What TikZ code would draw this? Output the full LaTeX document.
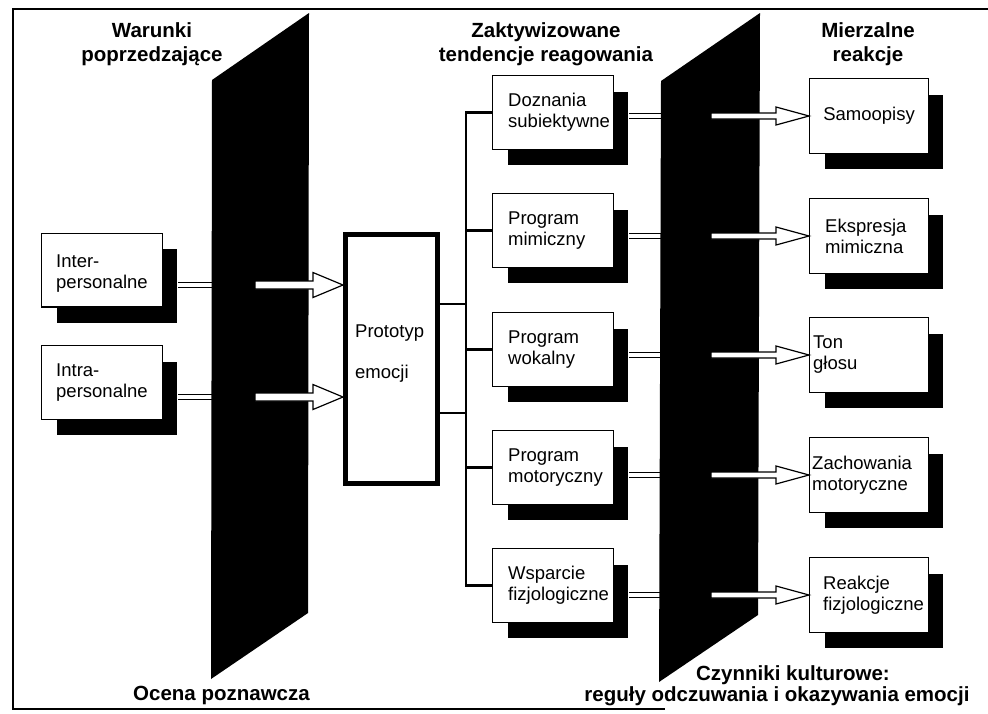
\documentclass[tikz,border=0pt]{standalone}
\usepackage{fontspec}
\setmainfont{Liberation Sans}
\usetikzlibrary{calc,shadows}
\newcommand\boxfont{\fontsize{18.5}{21}\selectfont}
\newcommand\titlefont{\fontsize{20.5}{24}\selectfont\bfseries}
% hollow block arrow: start coordinate, tip target, head length, head half-height, body half-height
\newcommand\hollowarrow[5]{%
  \draw[fill=white, line width=1.2pt, line join=miter] let \p1=(#1), \p2=(#2) in
    (\x1,\y1+#5) -- (\x2-#3,\y1+#5) -- (\x2-#3,\y1+#4) -- (\x2,\y1)
    -- (\x2-#3,\y1-#4) -- (\x2-#3,\y1-#5) -- (\x1,\y1-#5) -- cycle;}
\begin{document}
\begin{tikzpicture}[x=1pt,y=-1pt,
  framestroke/.style={line width=1.4pt},
  pnl/.style={fill=black},
  tbox/.style={draw, fill=white, line width=1.2pt, inner sep=0pt,
    minimum width=120.8pt, minimum height=73.8pt,
    general shadow={fill=black, shadow xshift=15pt, shadow yshift=-16pt}},
  rbox/.style={tbox, minimum width=118.8pt, minimum height=74.8pt},
  btext/.style={inner sep=0pt, align=left, font=\boxfont},
  ttl/.style={inner sep=0pt, align=center, font=\titlefont},
  conn/.style={line width=2.5pt},
  stub/.style={double=white, double distance=4pt, line width=1.4pt},
]
\useasboundingbox (0,0) rectangle (988,713);

% outer frame (open on the right)
\draw[framestroke] (988,9) -- (13,9) -- (13,709) -- (665,709);

% titles
\node[ttl, anchor=north] (ttlA) at (152,22) {Warunki\\poprzedzające};
\node[ttl, anchor=north] (ttlB) at (546,22) {Zaktywizowane\\tendencje reagowania};
\node[ttl, anchor=north] (ttlC) at (868,22) {Mierzalne\\reakcje};
\node[ttl, anchor=base west] (ttlD) at (133,700) {Ocena poznawcza};
\node[ttl, anchor=base] (ttlE) at (793,680) {Czynniki kulturowe:};
\node[ttl, anchor=base] (ttlF) at (777,701) {reguły odczuwania i okazywania emocji};

% key positions
\coordinate (lp) at (212,0);
\coordinate (rp) at (661,0);
\coordinate (busx) at (466,0);
\coordinate (la1) at (255,285);
\coordinate (la2) at (255,397);
\coordinate (ra1) at (711,116);
\coordinate (ra2) at (711,236);
\coordinate (ra3) at (711,355);
\coordinate (ra4) at (711,475);
\coordinate (ra5) at (711,595);
\coordinate (j1) at (466,304);
\coordinate (j2) at (466,413);

% prototype box
\node[draw, line width=5pt, fill=white, inner sep=0pt, minimum width=92pt,
  minimum height=249pt] (proto) at (391.5,359) {};
\node[btext, anchor=base west] (protoA) at (355,337) {Prototyp};
\node[btext, anchor=base west] (protoB) at (355,378) {emocji};

% antecedent boxes
\node[tbox] (i1) at (102,270) {};
\node[tbox] (i2) at (102,382.5) {};
\node[btext, anchor=west] (i1t) at ([xshift=15pt,yshift=-4pt]i1.west) {Inter-\\personalne};
\node[btext, anchor=west] (i2t) at ([xshift=15pt]i2.west) {Intra-\\personalne};

% response tendency boxes
\node[tbox] (t1) at (553,112.5) {};
\node[tbox] (t2) at (553,230.5) {};
\node[tbox] (t3) at (553,349.5) {};
\node[tbox] (t4) at (553,467.5) {};
\node[tbox] (t5) at (553,585.5) {};

% measured reaction boxes
\node[rbox] (r1) at (869,116) {};
\node[rbox] (r2) at (869,236) {};
\node[rbox] (r3) at (869,355) {};
\node[rbox] (r4) at (869,475) {};
\node[rbox] (r5) at (869,595) {};

% bus from the prototype to the tendencies
\draw[conn] (proto.east |- j1) -- (j1);
\draw[conn] (proto.east |- j2) -- (j2);
\draw[conn, line cap=rect] (busx |- t1.west) -- (busx |- t5.west);
\foreach \k in {1,...,5} \draw[conn] (busx |- t\k.west) -- (t\k.west);

% redraw boxes over connector ends
\foreach \k in {1,...,5} \node[draw, fill=white, line width=1.2pt, inner sep=0pt,
  minimum width=120.8pt, minimum height=73.8pt] (t\k c) at (t\k) {};

\node[btext, anchor=west] (t1t) at ([xshift=16pt]t1.west) {Doznania\\subiektywne};
\node[btext, anchor=west] (t2t) at ([xshift=16pt]t2.west) {Program\\mimiczny};
\node[btext, anchor=west] (t3t) at ([xshift=16pt]t3.west) {Program\\wokalny};
\node[btext, anchor=west] (t4t) at ([xshift=16pt]t4.west) {Program\\motoryczny};
\node[btext, anchor=west] (t5t) at ([xshift=16pt]t5.west) {Wsparcie\\fizjologiczne};

\node[btext] (r1t) at (r1.center) {Samoopisy};
\node[btext, anchor=west] (r2t) at ([xshift=16pt]r2.west) {Ekspresja\\mimiczna};
\node[btext, anchor=west] (r3t) at ([xshift=4pt]r3.west) {Ton\\głosu};
\node[btext, anchor=west] (r4t) at ([xshift=3pt]r4.west) {Zachowania\\motoryczne};
\node[btext, anchor=west] (r5t) at ([xshift=14pt]r5.west) {Reakcje\\fizjologiczne};

% short double links into the panels
\draw[stub] ([xshift=15pt]i1.east |- la1) -- (lp |- la1);
\draw[stub] ([xshift=15pt]i2.east |- la2) -- (lp |- la2);
\foreach \k in {1,...,5} \draw[stub] ([xshift=15pt]t\k.east |- ra\k) -- (rp |- ra\k);

% the two dark screens
\fill[pnl] (212,80) -- (309,13) -- (308,613) -- (211,679) -- cycle;
\fill[pnl] (661,81) -- (760,13) -- (758,615) -- (659,682) -- cycle;

% hollow arrows
\hollowarrow{la1}{proto.west}{30pt}{12.5pt}{4pt}
\hollowarrow{la2}{proto.west}{30pt}{12.5pt}{4pt}
\foreach \k in {1,...,5} {\hollowarrow{ra\k}{r\k.west}{33pt}{9pt}{3pt}}
\end{tikzpicture}
\end{document}
